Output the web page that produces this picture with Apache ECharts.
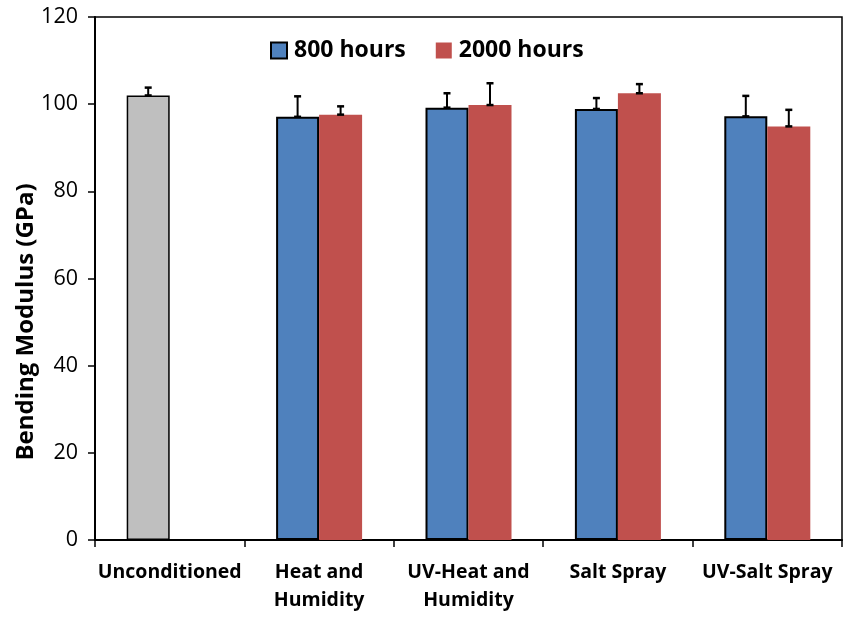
<!DOCTYPE html>
<html>
<head>
<meta charset="utf-8">
<script src="https://cdn.jsdelivr.net/npm/echarts@6/dist/echarts.min.js"></script>
<style>html,body{margin:0;padding:0;background:#fff}#c{width:843px;height:619px}</style>
</head>
<body>
<div id="c"></div>
<script>
const categories = ['Unconditioned', 'Heat and\nHumidity', 'UV-Heat and\nHumidity', 'Salt Spray', 'UV-Salt Spray'];
const unconditioned = 102.0;
const unconditionedErr = 1.8;
const hours800 = [null, 97.1, 99.2, 98.9, 97.2];
const err800 = [null, 4.7, 3.3, 2.5, 4.7];
const hours2000 = [null, 97.6, 99.8, 102.5, 94.9];
const err2000 = [null, 1.9, 5.0, 2.1, 3.8];
const yTicks = [0, 20, 40, 60, 80, 100, 120];

const FONT = 'Open Sans';
const BAR_W = 43;

const data800 = hours800.map((v, i) => i === 0
  ? { value: unconditioned, itemStyle: { color: '#BFBFBF', borderColor: '#000', borderWidth: 1.5 } }
  : v);

const errData = [];
errData.push([0, unconditioned, unconditionedErr, -1]);
for (let i = 1; i < categories.length; i++) {
  errData.push([i, hours800[i], err800[i], -1]);
  errData.push([i, hours2000[i], err2000[i], 1]);
}

const chart = echarts.init(document.getElementById('c'), null, { renderer: 'canvas' });
chart.setOption({
  animation: false,
  backgroundColor: '#fff',
  grid: { left: 95, right: 1, top: 17, bottom: 79, show: true, borderColor: '#000', borderWidth: 1.5, backgroundColor: 'transparent' },
  legend: {
    data: ['800 hours', '2000 hours'],
    left: 265, top: 34,
    itemWidth: 16, itemHeight: 16, itemGap: 30,
    icon: 'rect',
    textStyle: { fontFamily: FONT, fontWeight: 'bold', fontSize: 23, color: '#000', padding: [0, 0, 0, 2] }
  },
  xAxis: {
    type: 'category',
    data: categories,
    axisLine: { lineStyle: { color: '#000', width: 2 } },
    axisTick: { show: true, length: 7, lineStyle: { color: '#000', width: 1.5 } },
    axisLabel: { interval: 0, fontFamily: FONT, fontWeight: 'bold', fontSize: 19.5, color: '#000', lineHeight: 28, margin: 18 },
    splitLine: { show: false }
  },
  yAxis: {
    type: 'value', min: 0, max: 120, interval: 20,
    axisLine: { show: true, lineStyle: { color: '#000', width: 2 } },
    axisTick: { show: true, length: 7, lineStyle: { color: '#000', width: 1.5 } },
    axisLabel: { fontFamily: FONT, fontSize: 21.5, color: '#000', margin: 17,
      formatter: v => yTicks.includes(v) ? String(v) : '' },
    splitLine: { show: false }
  },
  graphic: [{
    type: 'text',
    x: 26, y: 322,
    rotation: Math.PI / 2,
    style: { text: 'Bending Modulus (GPa)', fontFamily: FONT, fontWeight: 'bold', fontSize: 24, fill: '#000', align: 'center', verticalAlign: 'middle' }
  }],
  series: [
    {
      name: '800 hours', type: 'bar', data: data800, barWidth: BAR_W, barGap: '0%',
      itemStyle: { color: '#4F81BD', borderColor: '#000', borderWidth: 2 }
    },
    {
      name: '2000 hours', type: 'bar', data: hours2000, barWidth: BAR_W, barGap: '0%',
      itemStyle: { color: '#C0504D', borderWidth: 0 }
    },
    {
      type: 'custom', name: 'err', data: errData, z: 10,
      encode: { x: 0, y: 1 },
      renderItem: function (params, api) {
        const ci = api.value(0), v = api.value(1), e = api.value(2), side = api.value(3);
        const base = api.coord([ci, v]);
        const top = api.coord([ci, v + e]);
        const x = base[0] + side * BAR_W / 2;
        const cap = 3.5;
        return {
          type: 'group',
          children: [
            { type: 'line', shape: { x1: x, y1: base[1], x2: x, y2: top[1] }, style: { stroke: '#000', lineWidth: 2 } },
            { type: 'line', shape: { x1: x - cap, y1: top[1], x2: x + cap, y2: top[1] }, style: { stroke: '#000', lineWidth: 2.5 } },
            { type: 'line', shape: { x1: x - cap, y1: base[1], x2: x + cap, y2: base[1] }, style: { stroke: '#000', lineWidth: 2.5 } }
          ]
        };
      }
    }
  ]
});
</script>
</body>
</html>
